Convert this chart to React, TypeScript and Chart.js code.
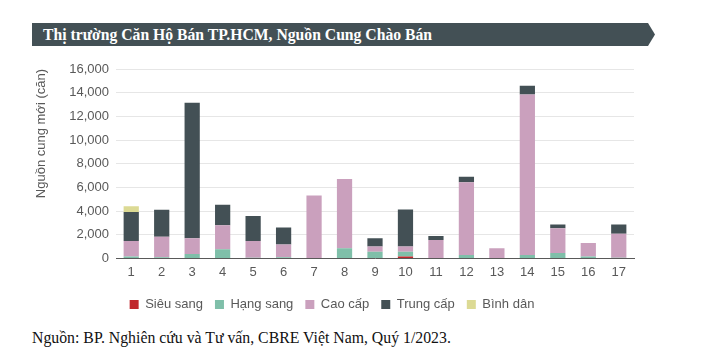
import React, { useEffect, useRef } from "react";
import { Chart, registerables } from "chart.js";

Chart.register(...registerables);

const categories = ["1", "2", "3", "4", "5", "6", "7", "8", "9", "10", "11", "12", "13", "14", "15", "16", "17"];
const sieuSang = [0, 0, 0, 0, 0, 0, 0, 0, 0, 170, 0, 0, 0, 0, 0, 0, 0];
const hangSang = [150, 100, 370, 770, 50, 100, 0, 850, 570, 400, 0, 280, 0, 280, 450, 150, 50];
const caoCap = [1330, 1720, 1330, 2040, 1430, 1070, 5310, 5850, 430, 430, 1560, 6160, 850, 13560, 2100, 1150, 2030];
const trungCap = [2430, 2300, 11440, 1730, 2100, 1440, 0, 0, 700, 3140, 340, 460, 0, 740, 310, 0, 790];
const binhDan = [490, 0, 0, 0, 0, 0, 0, 0, 0, 0, 0, 0, 0, 0, 0, 0, 0];
const seriesNames = ["Siêu sang", "Hạng sang", "Cao cấp", "Trung cấp", "Bình dân"];
const seriesColors = ["#c0282d", "#7fbfa9", "#caa0bd", "#435055", "#dcda94"];

const TITLE = "Thị trường Căn Hộ Bán TP.HCM, Nguồn Cung Chào Bán";
const SOURCE = "Nguồn: BP. Nghiên cứu và Tư vấn, CBRE Việt Nam, Quý 1/2023.";

export default function App() {
  const ref = useRef<HTMLCanvasElement | null>(null);
  useEffect(() => {
    if (!ref.current) return;
    const values = [sieuSang, hangSang, caoCap, trungCap, binhDan];
    const chart = new Chart(ref.current, {
      type: "bar",
      data: {
        labels: categories,
        datasets: values.map((d, i) => ({
          label: seriesNames[i],
          data: d,
          backgroundColor: seriesColors[i],
          borderWidth: 0,
          barPercentage: 0.5,
          categoryPercentage: 1,
        })),
      },
      options: {
        animation: false,
        responsive: false,
        maintainAspectRatio: false,
        layout: { padding: { left: 30, right: 76, top: 19, bottom: 0 } },
        plugins: {
          tooltip: { enabled: false },
          legend: {
            position: "bottom",
            labels: {
              boxWidth: 9,
              boxHeight: 9,
              padding: 12,
              color: "#595959",
              font: { family: "Liberation Sans, Arial, sans-serif", size: 13 },
            },
          },
        },
        scales: {
          x: {
            stacked: true,
            grid: { display: false, drawTicks: false },
            border: { color: "#595959", width: 1 },
            ticks: {
              color: "#595959",
              padding: 6,
              font: { family: "Liberation Sans, Arial, sans-serif", size: 13 },
              maxRotation: 0,
            },
          },
          y: {
            stacked: true,
            min: 0,
            max: 16000,
            afterFit: (s: any) => {
              s.width = 86;
            },
            grid: { color: "#e6e6e6", drawTicks: false },
            border: { display: false },
            ticks: {
              stepSize: 2000,
              padding: 7,
              color: "#595959",
              font: { family: "Liberation Sans, Arial, sans-serif", size: 13 },
              callback: (v: any) => Number(v).toLocaleString("en-US"),
            },
            title: {
              display: true,
              text: "Nguồn cung mới (căn)",
              align: "end",
              color: "#595959",
              font: { family: "Liberation Sans, Arial, sans-serif", size: 13 },
            },
          },
        },
      },
    });
    return () => chart.destroy();
  }, []);

  return (
    <div style={{ position: "absolute", left: 0, top: 0, width: 710, height: 358, background: "#fff" }}>
      <div
        style={{
          position: "absolute",
          left: 32,
          top: 23,
          width: 623,
          height: 23,
          background: "#435055",
          clipPath: "polygon(0 0, 616px 0, 623px 50%, 616px 100%, 0 100%)",
        }}
      />
      <div
        style={{
          position: "absolute",
          left: 43,
          top: 23,
          height: 23,
          lineHeight: "23px",
          color: "#fff",
          fontFamily: "'Liberation Serif', 'Times New Roman', serif",
          fontWeight: "bold",
          fontSize: 15.7,
          whiteSpace: "nowrap",
        }}
      >
        {TITLE}
      </div>
      <canvas ref={ref} width={710} height={271} style={{ position: "absolute", left: 0, top: 50, width: 710, height: 271 }} />
      <div
        style={{
          position: "absolute",
          left: 32,
          top: 329,
          lineHeight: "18px",
          color: "#111",
          fontFamily: "'Liberation Serif', 'Times New Roman', serif",
          fontSize: 15.8,
          whiteSpace: "nowrap",
        }}
      >
        {SOURCE}
      </div>
    </div>
  );
}
